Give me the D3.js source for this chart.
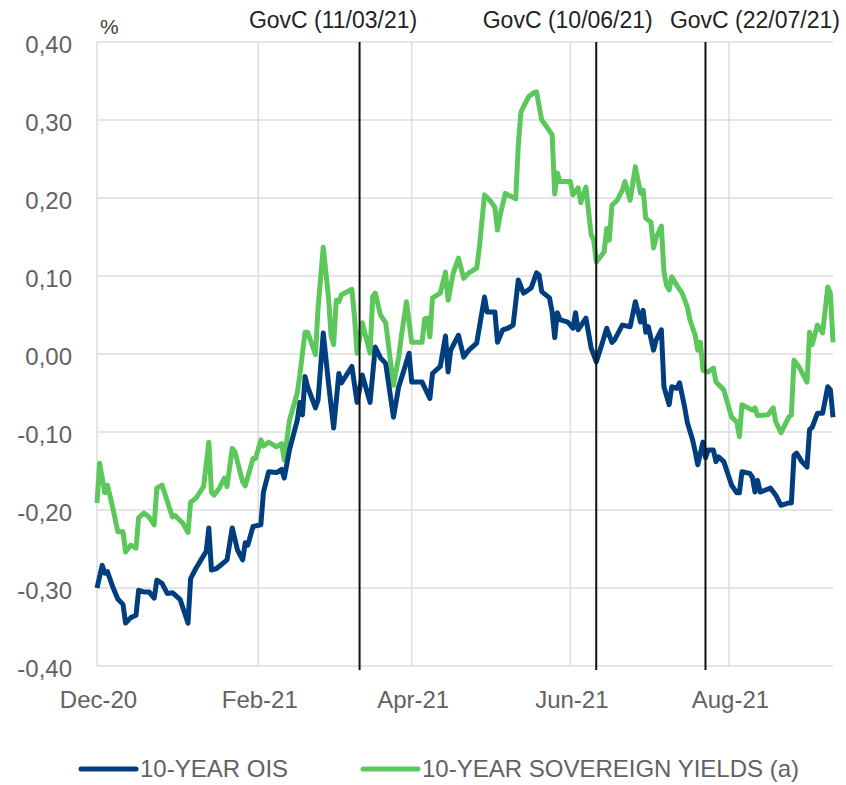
<!DOCTYPE html>
<html>
<head>
<meta charset="utf-8">
<script src="https://cdn.jsdelivr.net/npm/d3@7"></script>
<style>
  html, body { margin: 0; padding: 0; background: #ffffff; }
  svg { display: block; font-family: "Liberation Sans", Arial, sans-serif; }
</style>
</head>
<body>
<svg id="chart" width="846" height="785"></svg>
<script>
// ---------------- DATA ----------------
const yTickValues = [-0.4, -0.3, -0.2, -0.1, 0, 0.1, 0.2, 0.3, 0.4];
const yTickLabels = ["-0,40", "-0,30", "-0,20", "-0,10", "0,00", "0,10", "0,20", "0,30", "0,40"];
const xTickDates = ["2020-12-01", "2021-02-01", "2021-04-01", "2021-06-01", "2021-08-01"];
const xTickLabels = ["Dec-20", "Feb-21", "Apr-21", "Jun-21", "Aug-21"];
const xDomain = ["2020-12-01", "2021-09-10"];

const eventDates = ["2021-03-11", "2021-06-10", "2021-07-22"];
const eventLabels = ["GovC (11/03/21)", "GovC (10/06/21)", "GovC (22/07/21)"];

const seriesNames = ["10-YEAR OIS", "10-YEAR SOVEREIGN YIELDS (a)"];

const oisDates = ["2020-12-01","2020-12-03","2020-12-04","2020-12-05","2020-12-07","2020-12-09","2020-12-11","2020-12-12","2020-12-14","2020-12-16","2020-12-17","2020-12-19","2020-12-21","2020-12-23","2020-12-24","2020-12-26","2020-12-28","2020-12-30","2021-01-02","2021-01-05","2021-01-06","2021-01-08","2021-01-10","2021-01-12","2021-01-13","2021-01-14","2021-01-16","2021-01-20","2021-01-22","2021-01-24","2021-01-26","2021-01-27","2021-01-28","2021-01-30","2021-02-02","2021-02-03","2021-02-05","2021-02-08","2021-02-10","2021-02-11","2021-02-13","2021-02-16","2021-02-17","2021-02-18","2021-02-19","2021-02-20","2021-02-23","2021-02-24","2021-02-26","2021-02-28","2021-03-02","2021-03-04","2021-03-05","2021-03-09","2021-03-11","2021-03-13","2021-03-16","2021-03-18","2021-03-20","2021-03-22","2021-03-25","2021-03-27","2021-03-29","2021-03-31","2021-04-01","2021-04-05","2021-04-08","2021-04-09","2021-04-12","2021-04-14","2021-04-15","2021-04-16","2021-04-19","2021-04-21","2021-04-23","2021-04-26","2021-04-29","2021-04-30","2021-05-03","2021-05-04","2021-05-06","2021-05-08","2021-05-10","2021-05-12","2021-05-14","2021-05-15","2021-05-17","2021-05-19","2021-05-20","2021-05-21","2021-05-24","2021-05-25","2021-05-26","2021-05-27","2021-05-28","2021-05-31","2021-06-02","2021-06-03","2021-06-04","2021-06-07","2021-06-09","2021-06-11","2021-06-13","2021-06-15","2021-06-17","2021-06-18","2021-06-21","2021-06-24","2021-06-26","2021-06-28","2021-06-29","2021-06-30","2021-07-01","2021-07-03","2021-07-04","2021-07-06","2021-07-07","2021-07-09","2021-07-10","2021-07-12","2021-07-13","2021-07-15","2021-07-16","2021-07-18","2021-07-19","2021-07-20","2021-07-22","2021-07-23","2021-07-24","2021-07-26","2021-07-27","2021-07-28","2021-07-30","2021-08-02","2021-08-04","2021-08-05","2021-08-06","2021-08-09","2021-08-10","2021-08-11","2021-08-12","2021-08-13","2021-08-17","2021-08-19","2021-08-21","2021-08-24","2021-08-25","2021-08-26","2021-08-27","2021-08-29","2021-08-31","2021-09-01","2021-09-02","2021-09-04","2021-09-06","2021-09-08","2021-09-09","2021-09-10"];
const oisValues = [-0.300,-0.271,-0.281,-0.279,-0.298,-0.314,-0.321,-0.345,-0.338,-0.335,-0.303,-0.305,-0.305,-0.313,-0.290,-0.294,-0.307,-0.306,-0.315,-0.345,-0.288,-0.275,-0.264,-0.253,-0.223,-0.277,-0.275,-0.264,-0.223,-0.251,-0.264,-0.242,-0.245,-0.221,-0.219,-0.177,-0.151,-0.152,-0.148,-0.159,-0.123,-0.085,-0.062,-0.078,-0.029,-0.042,-0.069,-0.059,0.027,-0.037,-0.095,-0.025,-0.037,-0.016,-0.062,-0.027,-0.062,0.009,-0.005,-0.012,-0.081,-0.042,-0.021,0.001,-0.036,-0.036,-0.057,-0.025,-0.016,0.023,-0.023,0.005,0.024,-0.004,0.005,0.014,0.073,0.054,0.054,0.015,0.031,0.033,0.037,0.095,0.078,0.080,0.085,0.104,0.101,0.080,0.072,0.054,0.021,0.053,0.044,0.041,0.033,0.053,0.031,0.046,0.008,-0.010,0.011,0.033,0.015,0.018,0.037,0.035,0.067,0.041,0.056,0.028,0.035,0.005,0.018,0.031,-0.042,-0.065,-0.042,-0.044,-0.037,-0.069,-0.088,-0.110,-0.125,-0.142,-0.113,-0.133,-0.123,-0.123,-0.138,-0.132,-0.138,-0.168,-0.178,-0.178,-0.151,-0.153,-0.158,-0.177,-0.162,-0.177,-0.172,-0.181,-0.194,-0.191,-0.191,-0.130,-0.127,-0.138,-0.145,-0.097,-0.094,-0.076,-0.076,-0.042,-0.046,-0.081];

const sovDates = ["2020-12-01","2020-12-02","2020-12-04","2020-12-05","2020-12-07","2020-12-09","2020-12-11","2020-12-12","2020-12-14","2020-12-16","2020-12-17","2020-12-19","2020-12-21","2020-12-23","2020-12-24","2020-12-26","2020-12-30","2020-12-31","2021-01-03","2021-01-05","2021-01-06","2021-01-08","2021-01-11","2021-01-13","2021-01-14","2021-01-15","2021-01-17","2021-01-19","2021-01-20","2021-01-22","2021-01-23","2021-01-26","2021-01-27","2021-01-30","2021-01-31","2021-02-02","2021-02-03","2021-02-05","2021-02-08","2021-02-10","2021-02-11","2021-02-13","2021-02-16","2021-02-17","2021-02-19","2021-02-20","2021-02-23","2021-02-24","2021-02-26","2021-02-28","2021-03-01","2021-03-02","2021-03-03","2021-03-04","2021-03-05","2021-03-09","2021-03-10","2021-03-11","2021-03-13","2021-03-16","2021-03-17","2021-03-18","2021-03-20","2021-03-22","2021-03-25","2021-03-27","2021-03-28","2021-03-30","2021-04-01","2021-04-05","2021-04-06","2021-04-07","2021-04-08","2021-04-09","2021-04-12","2021-04-14","2021-04-15","2021-04-17","2021-04-19","2021-04-21","2021-04-23","2021-04-26","2021-04-27","2021-04-29","2021-05-01","2021-05-03","2021-05-04","2021-05-05","2021-05-07","2021-05-08","2021-05-11","2021-05-12","2021-05-13","2021-05-14","2021-05-16","2021-05-18","2021-05-19","2021-05-21","2021-05-23","2021-05-25","2021-05-26","2021-05-27","2021-05-28","2021-06-01","2021-06-02","2021-06-04","2021-06-05","2021-06-07","2021-06-09","2021-06-10","2021-06-11","2021-06-14","2021-06-15","2021-06-16","2021-06-17","2021-06-19","2021-06-21","2021-06-22","2021-06-24","2021-06-26","2021-06-28","2021-06-29","2021-06-30","2021-07-02","2021-07-03","2021-07-04","2021-07-06","2021-07-07","2021-07-08","2021-07-09","2021-07-10","2021-07-12","2021-07-14","2021-07-16","2021-07-17","2021-07-19","2021-07-20","2021-07-21","2021-07-22","2021-07-24","2021-07-26","2021-07-27","2021-07-30","2021-08-02","2021-08-04","2021-08-05","2021-08-06","2021-08-10","2021-08-11","2021-08-12","2021-08-16","2021-08-18","2021-08-19","2021-08-21","2021-08-24","2021-08-25","2021-08-26","2021-08-28","2021-08-31","2021-09-01","2021-09-02","2021-09-04","2021-09-06","2021-09-08","2021-09-09","2021-09-10"];
const sovValues = [-0.191,-0.140,-0.178,-0.168,-0.196,-0.228,-0.228,-0.254,-0.245,-0.249,-0.210,-0.204,-0.209,-0.219,-0.172,-0.168,-0.209,-0.207,-0.217,-0.229,-0.190,-0.185,-0.170,-0.113,-0.177,-0.181,-0.172,-0.159,-0.170,-0.121,-0.125,-0.164,-0.169,-0.134,-0.134,-0.110,-0.118,-0.113,-0.119,-0.115,-0.136,-0.085,-0.050,-0.027,0.028,0.028,-0.001,0.059,0.137,0.073,0.024,0.012,0.069,0.067,0.076,0.083,0.048,0.001,0.040,0.001,0.074,0.078,0.050,0.040,-0.040,-0.004,0.022,0.067,0.015,0.015,0.045,0.046,0.022,0.072,0.078,0.105,0.069,0.104,0.123,0.097,0.104,0.110,0.136,0.204,0.197,0.188,0.159,0.178,0.206,0.204,0.199,0.268,0.310,0.317,0.330,0.335,0.336,0.300,0.291,0.281,0.205,0.232,0.221,0.221,0.204,0.213,0.194,0.214,0.153,0.146,0.118,0.131,0.161,0.146,0.191,0.197,0.210,0.221,0.197,0.240,0.206,0.210,0.174,0.169,0.136,0.149,0.164,0.105,0.088,0.082,0.099,0.088,0.078,0.060,0.044,0.024,0.005,0.015,-0.021,-0.023,-0.018,-0.036,-0.046,-0.081,-0.087,-0.106,-0.065,-0.072,-0.069,-0.079,-0.078,-0.069,-0.087,-0.101,-0.081,-0.078,-0.008,-0.017,-0.036,0.028,0.012,0.037,0.027,0.086,0.078,0.015];

// ---------------- DRAWING ----------------
const parse = d3.utcParse("%Y-%m-%d");
const svg = d3.select("#chart");

const plot = { left: 97, right: 833, top: 42, bottom: 666 };
const COLORS = { ois: "#003e7e", sov: "#5cc85c", grid: "#dcdcdc", text: "#626262" };

const x = d3.scaleUtc().domain(xDomain.map(parse)).range([plot.left, plot.right]);
const y = d3.scaleLinear().domain([-0.4, 0.4]).range([plot.bottom, plot.top]);

// horizontal gridlines
svg.append("g")
  .selectAll("line").data(yTickValues).join("line")
  .attr("x1", plot.left).attr("x2", plot.right)
  .attr("y1", d => y(d)).attr("y2", d => y(d))
  .attr("stroke", COLORS.grid).attr("stroke-width", 1.5);

// vertical gridlines (month ticks)
svg.append("g")
  .selectAll("line").data(xTickDates).join("line")
  .attr("x1", d => x(parse(d))).attr("x2", d => x(parse(d)))
  .attr("y1", plot.top).attr("y2", plot.bottom)
  .attr("stroke", COLORS.grid).attr("stroke-width", 1.5);

// y tick labels
svg.append("g")
  .selectAll("text").data(yTickValues).join("text")
  .attr("x", 72).attr("y", d => y(d) + 11)
  .attr("text-anchor", "end")
  .attr("font-size", 24).attr("fill", COLORS.text)
  .text((d, i) => yTickLabels[i]);

// x tick labels
svg.append("g")
  .selectAll("text").data(xTickDates).join("text")
  .attr("x", d => x(parse(d)) + 1.5).attr("y", 708)
  .attr("text-anchor", "middle")
  .attr("font-size", 24).attr("fill", COLORS.text)
  .text((d, i) => xTickLabels[i]);

// unit label
svg.append("text").attr("x", 100).attr("y", 34)
  .attr("font-size", 21).attr("fill", "#404040").text("%");

// series lines
const line = d3.line().x(d => x(d.date)).y(d => y(d.value)).curve(d3.curveLinear);
const oisData = oisDates.map((d, i) => ({ date: parse(d), value: oisValues[i] }));
const sovData = sovDates.map((d, i) => ({ date: parse(d), value: sovValues[i] }));

svg.append("path").datum(sovData).attr("d", line)
  .attr("fill", "none").attr("stroke", COLORS.sov)
  .attr("stroke-width", 5).attr("stroke-linejoin", "round");
svg.append("path").datum(oisData).attr("d", line)
  .attr("fill", "none").attr("stroke", COLORS.ois)
  .attr("stroke-width", 5).attr("stroke-linejoin", "round");

// event lines + labels
const labelOffsets = [-24, -26, 52];
svg.append("g")
  .selectAll("line").data(eventDates).join("line")
  .attr("x1", d => x(parse(d)) + 2.5).attr("x2", d => x(parse(d)) + 2.5)
  .attr("y1", plot.top).attr("y2", plot.bottom + 4)
  .attr("stroke", "#111").attr("stroke-width", 2);
svg.append("g")
  .selectAll("text").data(eventDates).join("text")
  .attr("x", (d, i) => x(parse(d)) + labelOffsets[i]).attr("y", 28)
  .attr("text-anchor", "middle")
  .attr("font-size", 23).attr("fill", "#222")
  .text((d, i) => eventLabels[i]);

// legend
const legend = [
  { name: seriesNames[0], color: COLORS.ois, x0: 81 },
  { name: seriesNames[1], color: COLORS.sov, x0: 363 }
];
const lg = svg.append("g").selectAll("g").data(legend).join("g");
lg.append("line")
  .attr("x1", d => d.x0).attr("x2", d => d.x0 + 55)
  .attr("y1", 769).attr("y2", 769)
  .attr("stroke", d => d.color).attr("stroke-width", 5).attr("stroke-linecap", "round");
lg.append("text")
  .attr("x", d => d.x0 + 59).attr("y", 777)
  .attr("font-size", 24).attr("fill", COLORS.text)
  .text(d => d.name);
</script>
</body>
</html>
